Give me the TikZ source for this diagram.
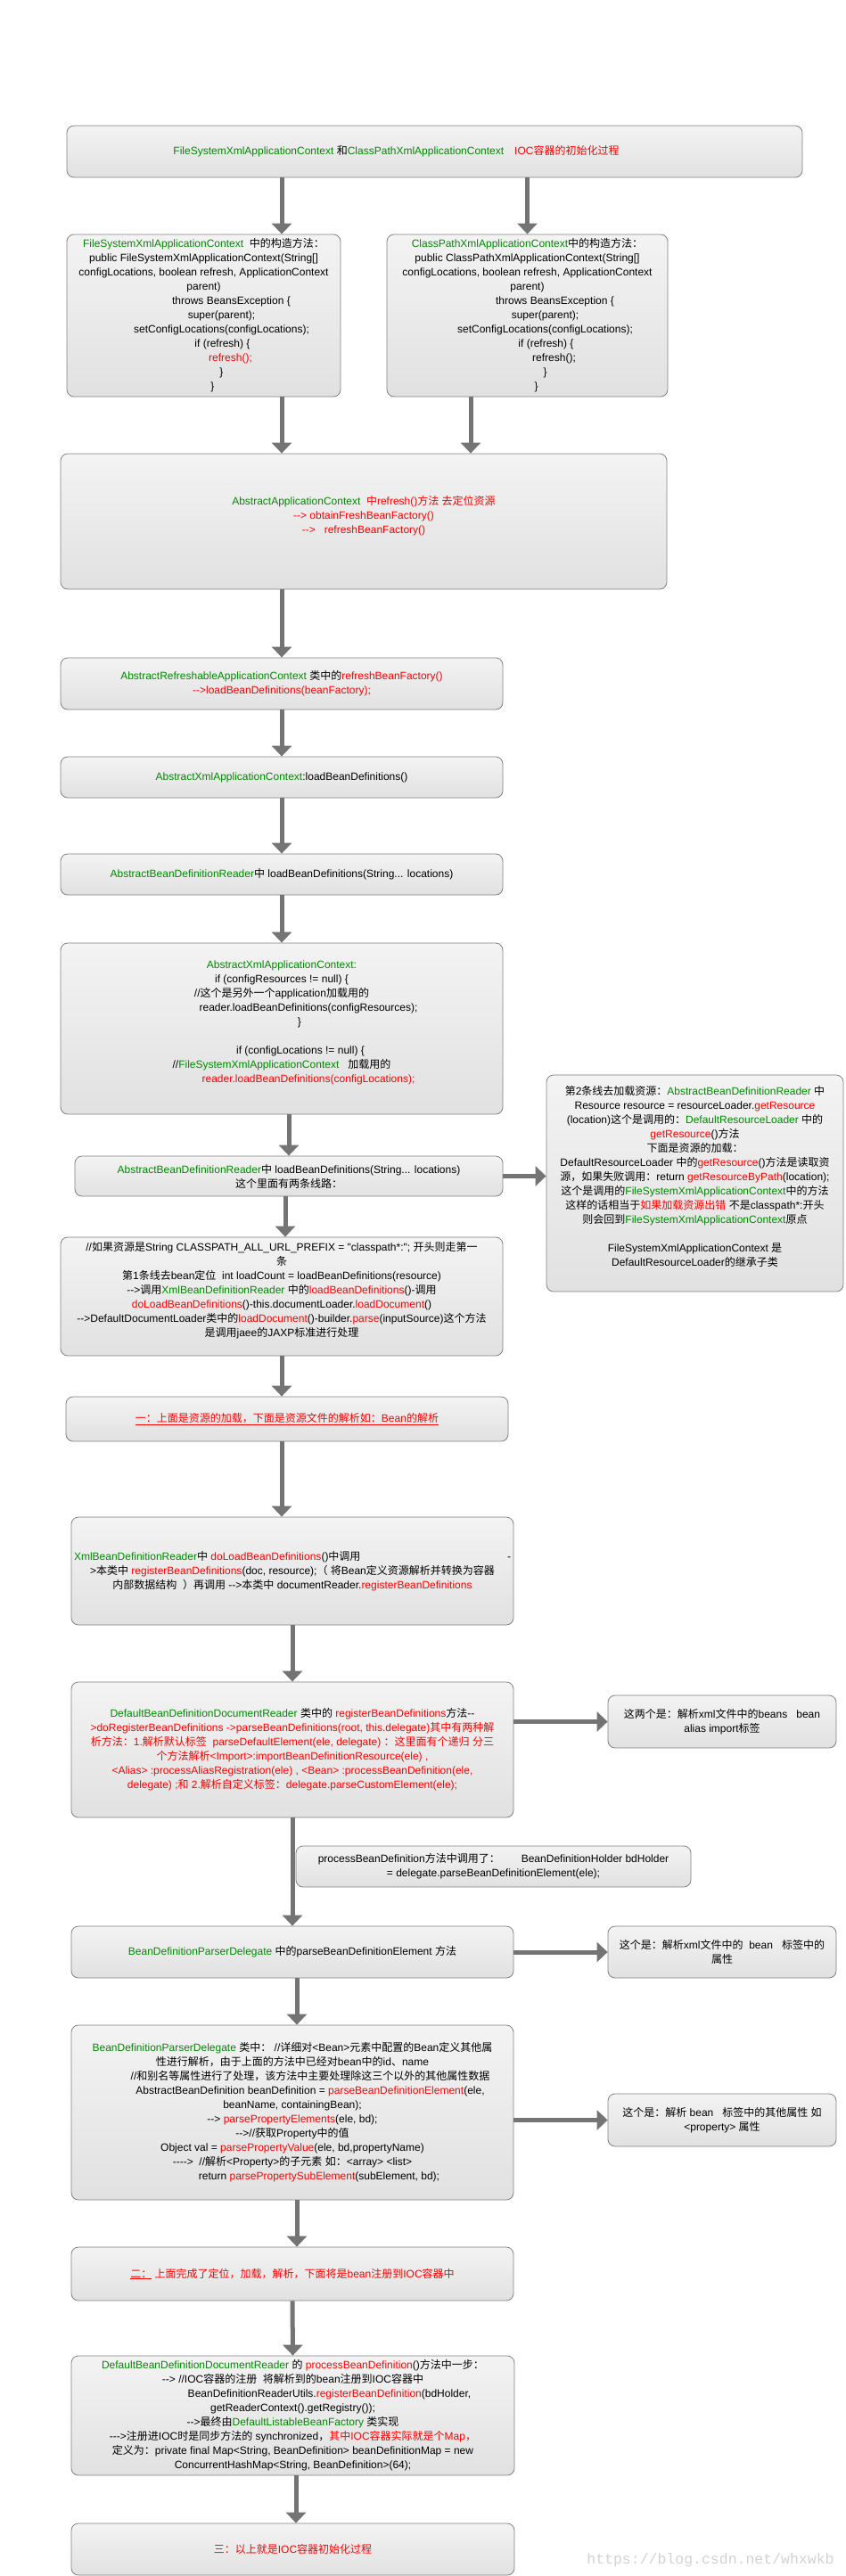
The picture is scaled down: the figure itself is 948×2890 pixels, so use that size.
\documentclass[tikz,border=0pt]{standalone}
\usepackage{fontspec}
\newfontfamily\latinfont{Liberation Sans}
\newfontfamily\cjkfont{Noto Sans CJK SC}
\newfontfamily\wmfont{Liberation Mono}
\usetikzlibrary{arrows.meta}

% switch to the CJK font for Chinese characters
\XeTeXinterchartokenstate=1
\newXeTeXintercharclass\cjkcls
\newcount\cjkc
\def\setcjkrange#1#2{\cjkc=#1\relax
  \loop\XeTeXcharclass\cjkc=\cjkcls\relax
  \ifnum\cjkc<#2\advance\cjkc by 1\relax\repeat}
\setcjkrange{"3000}{"303F}
\setcjkrange{"4E00}{"9FFF}
\setcjkrange{"FF00}{"FFEF}
\XeTeXinterchartoks 0 \cjkcls = {\begingroup\cjkfont}
\XeTeXinterchartoks 4095 \cjkcls = {\begingroup\cjkfont}
\XeTeXinterchartoks \cjkcls 0 = {\endgroup}
\XeTeXinterchartoks \cjkcls 4095 = {\endgroup}

\definecolor{cgreen}{HTML}{008A00}
\definecolor{cred}{HTML}{FF0000}
\definecolor{boxtop}{HTML}{F3F3F3}
\definecolor{boxbot}{HTML}{E1E1E1}
\definecolor{boxline}{HTML}{808080}
\definecolor{arrowgray}{HTML}{747474}
\definecolor{wmgray}{HTML}{D2D2D2}
\newcommand{\gtxt}[1]{\textcolor{cgreen}{#1}}
\newcommand{\rtxt}[1]{\textcolor{cred}{#1}}

\begin{document}
\begin{tikzpicture}[x=1pt, y=-1pt,
        stage/.style={rectangle, rounded corners=8pt, draw=boxline, line width=0.8pt, top color=boxtop, bottom color=boxbot, align=center, inner sep=2pt, font=\latinfont\fontsize{12}{16}\selectfont},
        remark/.style={stage, minimum width=256pt},
        arrow/.style={-{Triangle[width=22pt,length=12pt]}, draw=arrowgray, line width=5pt},
        wmstyle/.style={font=\wmfont\fontsize{16.5}{18}\selectfont, text=wmgray}
    ]
        \useasboundingbox (0,0) rectangle (948,2890);

        % Header and constructors
        \node[stage, minimum width=825pt, minimum height=58pt] (headbox) at (487.5,170) {\gtxt{FileSystemXmlApplicationContext} 和\gtxt{ClassPathXmlApplicationContext}\quad\rtxt{IOC容器的初始化过程}\hspace*{86pt}};
        \node[stage, minimum width=307pt, minimum height=182pt] (fsctx) at (228.5,354) {\gtxt{FileSystemXmlApplicationContext}\ \ 中的构造方法：\\
            public FileSystemXmlApplicationContext(String[]\\
            configLocations, boolean refresh, ApplicationContext\\
            parent)\\
            \hspace*{62pt}throws BeansException \{\\
            \hspace*{40pt}super(parent);\\
            \hspace*{40pt}setConfigLocations(configLocations);\\
            \hspace*{42pt}if (refresh) \{\\
            \hspace*{60pt}\rtxt{refresh();}\\
            \hspace*{40pt}\}\\
            \hspace*{20pt}\}};
        \node[stage, minimum width=315pt, minimum height=182pt] (cpctx) at (591.5,354) {\gtxt{ClassPathXmlApplicationContext}中的构造方法：\\
            public ClassPathXmlApplicationContext(String[]\\
            configLocations, boolean refresh, ApplicationContext\\
            parent)\\
            \hspace*{62pt}throws BeansException \{\\
            \hspace*{40pt}super(parent);\\
            \hspace*{40pt}setConfigLocations(configLocations);\\
            \hspace*{42pt}if (refresh) \{\\
            \hspace*{60pt}refresh();\\
            \hspace*{40pt}\}\\
            \hspace*{20pt}\}};

        % Locating the resource
        \node[stage, minimum width=680pt, minimum height=152pt] (refctx) at (408,585) {\gtxt{AbstractApplicationContext}\ \ \rtxt{中refresh()方法 去定位资源}\\
            \rtxt{--> obtainFreshBeanFactory()}\\
            \rtxt{-->\ \ \ refreshBeanFactory()}\\ \mbox{}};
        \node[stage, minimum width=496pt, minimum height=58pt] (refreshable) at (316,767) {\gtxt{AbstractRefreshableApplicationContext} 类中的\rtxt{refreshBeanFactory()}\\
            \rtxt{-->loadBeanDefinitions(beanFactory);}};
        \node[stage, minimum width=496pt, minimum height=46pt] (axmlctx) at (316,872) {\gtxt{AbstractXmlApplicationContext}:loadBeanDefinitions()};
        \node[stage, minimum width=496pt, minimum height=46pt] (abdreader) at (316,981) {\gtxt{AbstractBeanDefinitionReader}中 loadBeanDefinitions(String... locations)};
        \node[stage, minimum width=496pt, minimum height=192pt] (axmlload) at (316,1154) {\gtxt{AbstractXmlApplicationContext:}\\
            if (configResources != null) \{\\
            //这个是另外一个application加载用的\\
            \hspace*{60pt}reader.loadBeanDefinitions(configResources);\\
            \hspace*{40pt}\}\\ \mbox{}\\
            \hspace*{42pt}if (configLocations != null) \{\\
            //\gtxt{FileSystemXmlApplicationContext}\ \ \ 加载用的\\
            \hspace*{60pt}\rtxt{reader.loadBeanDefinitions(configLocations);}\\ \mbox{}};

        % Two lines of loading
        \node[stage, minimum width=480pt, minimum height=45pt] (abdreader2) at (324,1319.5) {\gtxt{AbstractBeanDefinitionReader}中 loadBeanDefinitions(String... locations)\\
            这个里面有两条线路：};
        \node[stage, minimum width=333pt, minimum height=243pt] (resload) at (779.5,1327.5) {第2条线去加载资源：\gtxt{AbstractBeanDefinitionReader} 中\\
            Resource resource = resourceLoader.\rtxt{getResource}\\
            (location)这个是调用的：\gtxt{DefaultResourceLoader} 中的\\
            \rtxt{getResource}()方法\\
            下面是资源的加载：\\
            DefaultResourceLoader 中的\rtxt{getResource}()方法是读取资\\
            源，如果失败调用：return \rtxt{getResourceByPath}(location);\\
            这个是调用的\gtxt{FileSystemXmlApplicationContext}中的方法\\
            这样的话相当于\rtxt{如果加载资源出错}\ 不是classpath*:开头\\
            则会回到\gtxt{FileSystemXmlApplicationContext}原点\\ \mbox{}\\
            FileSystemXmlApplicationContext\ 是\\
            DefaultResourceLoader的继承子类\\ \mbox{}};
        \node[stage, minimum width=496pt, minimum height=133pt] (cmt1) at (316,1454.5) {//如果资源是String CLASSPATH\_ALL\_URL\_PREFIX = "classpath*:";\ 开头则走第一\\
            条\\
            第1条线去bean定位\ \ int loadCount = loadBeanDefinitions(resource)\\
            -->调用\gtxt{XmlBeanDefinitionReader} 中的\rtxt{loadBeanDefinitions}()-调用\\
            \rtxt{doLoadBeanDefinitions}()-this.documentLoader.\rtxt{loadDocument}()\\
            -->DefaultDocumentLoader类中的\rtxt{loadDocument}()-builder.\rtxt{parse}(inputSource)这个方法\\
            是调用jaee的JAXP标准进行处理\\ \mbox{}};
        \node[stage, minimum width=496pt, minimum height=50pt] (step1) at (322,1592) {\rtxt{\underline{一：上面是资源的加载，下面是资源文件的解析如：Bean的解析}}};

        % Parsing
        \node[stage, minimum width=496pt, minimum height=121pt] (xmlreader) at (328,1762.5) {\makebox[490pt][l]{\gtxt{XmlBeanDefinitionReader}中 \rtxt{doLoadBeanDefinitions}()中调用\hfill -}\\
            >本类中 \rtxt{registerBeanDefinitions}(doc, resource);（ 将Bean定义资源解析并转换为容器\\
            内部数据结构\ \ ）再调用 -->本类中 documentReader.\rtxt{registerBeanDefinitions}};
        \node[stage, minimum width=496pt, minimum height=152pt] (dbddreader) at (328,1963) {\gtxt{DefaultBeanDefinitionDocumentReader} 类中的 \rtxt{registerBeanDefinitions}方法--\\
            \rtxt{>doRegisterBeanDefinitions ->parseBeanDefinitions(root, this.delegate)其中有两种解}\\
            \rtxt{析方法：1.解析默认标签\ \ parseDefaultElement(ele, delegate) ：这里面有个递归 分三}\\
            \rtxt{个方法解析<Import>:importBeanDefinitionResource(ele) ,}\\
            \rtxt{<Alias> :processAliasRegistration(ele) , <Bean> :processBeanDefinition(ele,}\\
            \rtxt{delegate) ;和 2.解析自定义标签：delegate.parseCustomElement(ele);}};
        \node[remark, minimum height=59pt] (dbdnote) at (810,1931.5) {这两个是：解析xml文件中的beans\ \ \ bean\\
            alias import标签};
        \node[stage, minimum width=443pt, minimum height=46pt] (procnote) at (553.5,2094) {processBeanDefinition方法中调用了：\hspace{24pt}BeanDefinitionHolder bdHolder\\
            = delegate.parseBeanDefinitionElement(ele);};
        \node[stage, minimum width=496pt, minimum height=58pt] (bdpdelegate) at (328,2190) {\gtxt{BeanDefinitionParserDelegate} 中的parseBeanDefinitionElement 方法};
        \node[remark, minimum height=58pt] (bdpnote) at (810,2190) {这个是：解析xml文件中的\ \ bean\ \ \ 标签中的\\
            属性};
        \node[stage, minimum width=496pt, minimum height=196pt] (propparse) at (328,2370) {\gtxt{BeanDefinitionParserDelegate} 类中：\ //详细对<Bean>元素中配置的Bean定义其他属\\
            性进行解析，由于上面的方法中已经对bean中的id、name\\
            \hspace*{40pt}//和别名等属性进行了处理，该方法中主要处理除这三个以外的其他属性数据\\
            \hspace*{40pt}AbstractBeanDefinition beanDefinition = \rtxt{parseBeanDefinitionElement}(ele,\\
            beanName, containingBean);\\
            --> \rtxt{parsePropertyElements}(ele, bd);\\
            -->//获取Property中的值\\
            Object val = \rtxt{parsePropertyValue}(ele, bd,propertyName)\\
            ---->\ \ //解析<Property>的子元素 如：<array> <list>\\
            \hspace*{60pt}return \rtxt{parsePropertySubElement}(subElement, bd);};
        \node[remark, minimum height=59pt] (propnote) at (810,2378.5) {这个是：解析 bean\ \ \ 标签中的其他属性 如\\
            <property> 属性};

        % Registering
        \node[stage, minimum width=496pt, minimum height=60pt] (step2) at (328,2551) {\rtxt{\underline{二：}\ 上面完成了定位，加载，解析，下面将是bean注册到IOC容器中}};
        \node[stage, minimum width=497pt, minimum height=134pt] (register) at (328.5,2710) {\gtxt{DefaultBeanDefinitionDocumentReader} 的 \rtxt{processBeanDefinition}()方法中一步：\\
            --> //IOC容器的注册\ \ 将解析到的bean注册到IOC容器中\\
            \hspace*{82pt}BeanDefinitionReaderUtils.\rtxt{registerBeanDefinition}(bdHolder,\\
            getReaderContext().getRegistry());\\
            -->最终由\gtxt{DefaultListableBeanFactory} 类实现\\
            --->注册进IOC时是同步方法的 synchronized，\rtxt{其中IOC容器实际就是个Map，}\\
            定义为：private final Map<String, BeanDefinition> beanDefinitionMap = new\\
            ConcurrentHashMap<String, BeanDefinition>(64);};
        \node[stage, minimum width=497pt, minimum height=58pt] (finish) at (328.5,2860) {\rtxt{三：以上就是IOC容器初始化过程}};

        \node[wmstyle] (wmark) at (797,2872) {https://blog.csdn.net/whxwkb};

        % Arrows
        \draw[arrow] ([xshift=87.5pt]fsctx.north |- headbox.south) -- ([xshift=87.5pt]fsctx.north);
        \draw[arrow] (cpctx.north |- headbox.south) -- (cpctx.north);
        \draw[arrow] ([xshift=87.5pt]fsctx.south) -- ([xshift=87.5pt]fsctx.south |- refctx.north);
        \draw[arrow] ([xshift=-63.5pt]cpctx.south) -- ([xshift=-63.5pt]cpctx.south |- refctx.north);
        \draw[arrow] (refreshable.north |- refctx.south) -- (refreshable.north);
        \draw[arrow] (refreshable.south) -- (axmlctx.north);
        \draw[arrow] (axmlctx.south) -- (abdreader.north);
        \draw[arrow] (abdreader.south) -- (axmlload.north);
        \draw[arrow] (abdreader2.north |- axmlload.south) -- (abdreader2.north);
        \draw[arrow] (abdreader2.east) -- (abdreader2.east -| resload.west);
        \draw[arrow] ([xshift=-4pt]abdreader2.south) -- ([xshift=-4pt]abdreader2.south |- cmt1.north);
        \draw[arrow] (cmt1.south) -- (cmt1.south |- step1.north);
        \draw[arrow] ([xshift=-6pt]step1.south) -- ([xshift=-6pt]step1.south |- xmlreader.north);
        \draw[arrow] (xmlreader.south) -- (dbddreader.north);
        \draw[arrow] (dbddreader.east |- dbdnote.west) -- (dbdnote.west);
        \draw[arrow] (dbddreader.south) -- (bdpdelegate.north);
        \draw[arrow] (bdpdelegate.east) -- (bdpnote.west);
        \draw[arrow] ([xshift=5pt]bdpdelegate.south) -- ([xshift=5pt]propparse.north);
        \draw[arrow] (propparse.east |- propnote.west) -- (propnote.west);
        \draw[arrow] ([xshift=5pt]propparse.south) -- ([xshift=5pt]step2.north);
        \draw[arrow] (step2.south) -- (register.north);
        \draw[arrow] ([xshift=3.5pt]register.south) -- ([xshift=3.5pt]finish.north);

    \end{tikzpicture}
\end{document}
